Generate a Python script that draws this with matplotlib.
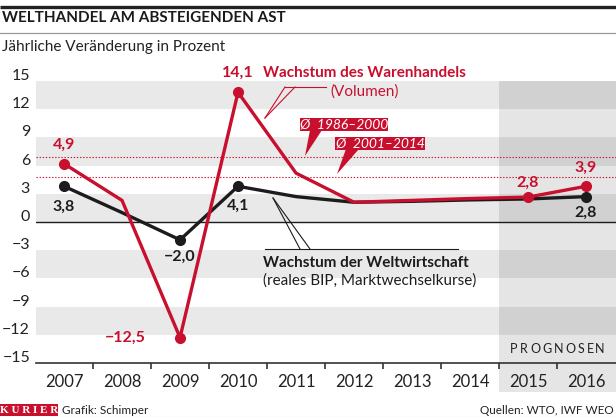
import matplotlib
matplotlib.use("Agg")
import matplotlib.pyplot as plt
from matplotlib.patches import Rectangle, Polygon
from matplotlib.transforms import blended_transform_factory
from matplotlib.textpath import TextPath
from matplotlib.font_manager import FontProperties
import numpy as np

# ---------------- data ----------------
years = ['2007', '2008', '2009', '2010', '2011', '2012', '2013', '2014', '2015', '2016']
trade = [6.2, 2.3, -12.3, 13.8, 5.2, 2.1, 2.3, 2.5, 2.65, 3.8]      # Wachstum des Warenhandels
world = [3.8, 1.0, -1.9, 3.8, 2.7, 2.1, 2.2, 2.35, 2.45, 2.7]       # Wachstum der Weltwirtschaft
trade_labels = {0: '4,9', 2: '\u221212,5', 3: '14,1', 8: '2,8', 9: '3,9'}
world_labels = {0: '3,8', 2: '\u22122,0', 3: '4,1', 9: '2,8'}
avg_1986_2000 = 6.9
avg_2001_2014 = 4.8
yticks = [15, 12, 9, 6, 3, 0, -3, -6, -9, -12, -15]
forecast_start = 8  # index of 2015

RED = '#c8102e'
BLACK = '#1c1c1c'
BAND = '#e9e9e9'

plt.rcParams['font.family'] = ['Lato', 'DejaVu Sans']

W, H = 616, 417
fig = plt.figure(figsize=(W / 100, H / 100), dpi=100)
fig.patch.set_facecolor('white')

# main axes (pixel geometry)
left, right, top, bottom = 36, 616, 81, 363
ax = fig.add_axes([left / W, 1 - bottom / H, (right - left) / W, (bottom - top) / H])
ax.set_xlim(-0.483, 9.517)
ax.set_ylim(-15, 15)
ax.patch.set_alpha(0)

x = np.arange(len(years))

# bands
for lo in [12, 6, 0, -6, -12]:
    ax.axhspan(lo, lo + 3, color=BAND, zorder=0, lw=0)

# forecast shading (extends below axis)
tr = blended_transform_factory(ax.transData, ax.transAxes)
ax.add_patch(Rectangle((forecast_start - 0.5, -29 / 282), 10, 1 + 29 / 282,
                       transform=tr, facecolor='black', alpha=0.1, lw=0,
                       clip_on=False, zorder=0.5))

# zero line and average lines
ax.axhline(0, color=BLACK, lw=1.0, zorder=1)
for v in (avg_1986_2000, avg_2001_2014):
    ax.axhline(v, color=RED, lw=0.8, ls=(0, (1.2, 1.6)), zorder=1)

# series
ax.plot(x, world, color=BLACK, lw=2.4, zorder=3, solid_joinstyle='round')
ax.plot(x, trade, color=RED, lw=2.4, zorder=4, solid_joinstyle='round')
wi = list(world_labels.keys())
ti = list(trade_labels.keys())
ax.plot(x[wi], np.array(world)[wi], 'o', color=BLACK, ms=7, zorder=3)
ax.plot(x[ti], np.array(trade)[ti], 'o', color=RED, ms=7, zorder=4)

PT = 0.72  # points per pixel
# data labels
offs_t = {0: (0, 19, 'center'), 2: (-34, 0, 'right'), 3: (0, 19, 'center'), 8: (0, 14, 'center'), 9: (0, 18, 'center')}
for i, s in trade_labels.items():
    dx, dy, ha = offs_t[i]
    ax.annotate(s, (x[i], trade[i]), xytext=(dx * PT, dy * PT), textcoords='offset points',
                ha=ha, va='center', color=RED, fontsize=11.5, fontweight='bold', zorder=6)
offs_w = {0: (0, -21), 2: (0, -17), 3: (0, -20), 9: (0, -16)}
for i, s in world_labels.items():
    dx, dy = offs_w[i]
    ax.annotate(s, (x[i], world[i]), xytext=(dx * PT, dy * PT), textcoords='offset points',
                ha='center', va='center', color=BLACK, fontsize=11.5, fontweight='bold', zorder=6)

# axes styling
for s in ['top', 'right', 'left']:
    ax.spines[s].set_visible(False)
ax.spines['bottom'].set_color('#333333')
ax.spines['bottom'].set_linewidth(1.2)
ax.set_xticks(x)
ax.set_xticklabels(years, fontsize=12, color='#222222')
ax.tick_params(axis='x', length=0, pad=8)
ax.set_xticks(np.arange(0.5, 9, 1), minor=True)
ax.tick_params(axis='x', which='minor', length=4, width=1.2, color='#333333', direction='out')
ax.set_yticks([])
for v in yticks:
    lbl = str(v).replace('-', '\u2212')
    ax.annotate(lbl, (0, v), xycoords=('axes fraction', 'data'), xytext=(-6 * PT, 5 * PT),
                textcoords='offset points', ha='right', va='center', fontsize=11.5, color='#222222')

# PROGNOSEN letter-spaced (uniform gaps between glyphs)
word = 'PROGNOSEN'
fp = FontProperties(family='Lato', size=9)
fs_px = 9 / PT
cur = 12.0
for ch in word:
    w = TextPath((0, 0), ch, size=fs_px, prop=fp).get_extents().width
    ax.annotate(ch, (forecast_start - 0.5, -15), xycoords='data',
                xytext=((cur + w / 2) * PT, 14 * PT), textcoords='offset points',
                ha='center', va='center', fontsize=9, color='#222222')
    cur += w + 3.6

# ---------------- overlay (pixel coords) ----------------
ov = fig.add_axes([0, 0, 1, 1], zorder=10)
ov.set_xlim(0, W)
ov.set_ylim(H, 0)
ov.axis('off')
ov.patch.set_alpha(0)

# header
ov.plot([0, W], [6.5, 6.5], color='#222222', lw=2.4, solid_capstyle='butt')
ov.text(2, 18, 'WELTHANDEL AM ABSTEIGENDEN AST', fontsize=11, fontweight='bold',
        color='#1a1a1a', va='center', ha='left')
ov.plot([0, W], [33, 33], color='#9a9a9a', lw=0.9)
ov.text(2, 47, 'Jährliche Veränderung in Prozent', fontsize=11, color='#222222',
        va='center', ha='left')

# trade annotation
ov.text(263, 73, 'Wachstum des Warenhandels', fontsize=11, fontweight='bold', color=RED,
        va='center', ha='left')
ov.text(330, 92, '(Volumen)', fontsize=11, color=RED, va='center', ha='left')
ov.plot([265, 285], [118, 87], color=RED, lw=0.8)
ov.plot([265, 295], [118, 87], color=RED, lw=0.8)
ov.plot([285, 326], [86.5, 86.5], color=RED, lw=0.8)

# average boxes
ov.add_patch(Rectangle((300, 118), 88, 13, facecolor=RED, lw=0))
ov.add_patch(Polygon([(310, 130), (322, 130), (305, 156)], closed=True, facecolor=RED, lw=0))
ov.text(344, 124.5, 'Ø  1986–2000', fontsize=10, style='italic', color='white',
        ha='center', va='center')
ov.add_patch(Rectangle((335, 137), 90, 13, facecolor=RED, lw=0))
ov.add_patch(Polygon([(346, 149), (359, 149), (337, 174)], closed=True, facecolor=RED, lw=0))
ov.text(380, 143.5, 'Ø  2001–2014', fontsize=10, style='italic', color='white',
        ha='center', va='center')

# world annotation
ov.plot([273, 300], [198, 249], color=BLACK, lw=0.8)
ov.plot([273, 310], [198, 249], color=BLACK, lw=0.8)
ov.plot([265, 458], [249, 249], color=BLACK, lw=0.8)
ov.text(263, 263, 'Wachstum der Weltwirtschaft', fontsize=11, fontweight='bold', color=BLACK,
        va='center', ha='left')
ov.text(263, 281, '(reales BIP, Marktwechselkurse)', fontsize=11, color=BLACK,
        va='center', ha='left')

# footer
ov.add_patch(Rectangle((0, 404), 58, 12, facecolor=RED, lw=0))
ov.text(29, 410.5, 'K U R I E R', fontsize=8, fontweight='bold', color='white',
        family=['Liberation Serif', 'DejaVu Serif'], ha='center', va='center')
ov.text(62, 410, 'Grafik: Schimper', fontsize=8.5, color='#222222', ha='left', va='center')
ov.text(614, 410, 'Quellen: WTO, IWF WEO', fontsize=8.5, color='#222222', ha='right', va='center')
ov.plot([0, W], [416.5, 416.5], color='#cccccc', lw=0.8)

fig.savefig('out.png', dpi=100)
